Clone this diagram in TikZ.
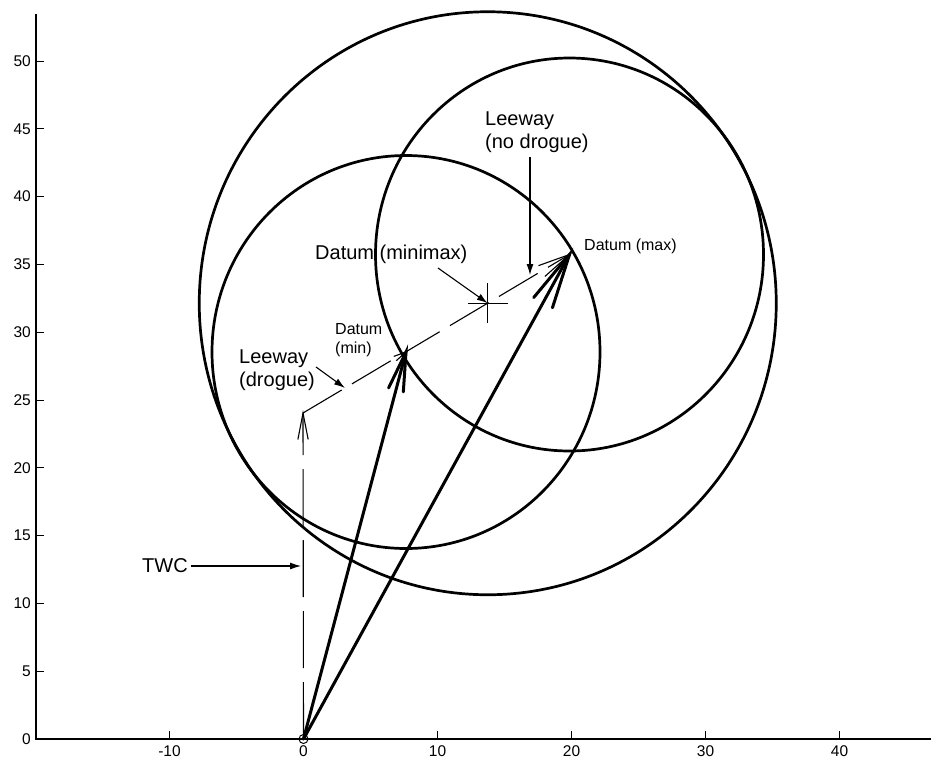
\documentclass[tikz,border=0pt]{standalone}
\usepackage{fontspec}
\setmainfont{Liberation Sans}
\usetikzlibrary{calc,arrows.meta}
\newcommand{\quivhead}[4]{% tail, tip, length, style
  \draw[#4] ($(#2)!#3!11:(#1)$) -- (#2) -- ($(#2)!#3!-11:(#1)$);}
\begin{document}
\begin{tikzpicture}[x=1pt,y=-1pt,
  circ/.style={line width=2.7pt},
  thinl/.style={line width=1.1pt},
  vec/.style={line width=3pt, line cap=round},
  lbl/.style={font=\fontsize{20}{23}\selectfont, inner sep=0pt, align=left},
  smalllbl/.style={font=\fontsize{16}{19}\selectfont, inner sep=0pt, align=left},
  ticklbl/.style={font=\fontsize{15.5}{17}\selectfont, inner sep=0pt},
  lead/.style={line width=1.1pt, -{Latex[length=11pt,width=7pt]}},
  dsh/.style={line width=1.1pt, dash pattern=on 45pt off 12pt},
  twcdsh/.style={line width=1.1pt, dash pattern=on 57pt off 14pt}]
\useasboundingbox (0,0) rectangle (931,764);
% axes
\coordinate (ytop) at (36,14);
\coordinate (org) at (36,739);
\coordinate (xend) at (931,739);
\draw[line width=1.4pt] (ytop) -- (org) -- (xend);
% y ticks
\foreach \v in {0,5,...,50}{
  \pgfmathsetmacro{\yy}{739-13.56*\v}
  \draw[line width=1pt] (36,\yy) -- (44,\yy);
  \node[ticklbl, anchor=east] (yl\v) at (31,\yy) {\v};
}
% x ticks
\foreach \v in {-10,0,10,20,30,40}{
  \pgfmathsetmacro{\xx}{303.5+13.4*\v}
  \draw[line width=1pt] (\xx,739) -- (\xx,731);
  \node[ticklbl, anchor=north] (xl\v) at (\xx,745) {\v};
}
% key points
\coordinate (O) at (303.5,739);
\coordinate (T) at (303,413);
\coordinate (Dmin) at (406,352);
\coordinate (Dmax) at (569.5,254.5);
\coordinate (Mm) at ($(Dmin)!0.5!(Dmax)$);
% circles
\draw[circ] (Mm) ellipse [x radius=288.5, y radius=291.5];
\draw[circ] (Dmin) ellipse [x radius=194, y radius=196.5];
\draw[circ] (Dmax) ellipse [x radius=194, y radius=196.5];
% origin marker
\draw[line width=1pt] (O) circle [radius=4.5];
% TWC
\draw[twcdsh] (O) -- (T);
\quivhead{O}{T}{27pt}{line width=1.1pt}
% leeway vectors
\draw[dsh] (T) -- (Dmax);
\quivhead{T}{Dmin}{13pt}{line width=1.1pt}
\quivhead{T}{Dmax}{33pt}{line width=1.1pt}
% thick vectors
\draw[vec] (O) -- (Dmin);
\quivhead{O}{Dmin}{40pt}{vec}
\draw[vec] (O) -- (Dmax);
\quivhead{O}{Dmax}{56pt}{vec}
% minimax marker
\draw[line width=1pt] ($(Mm)+(0,-20)$) -- ($(Mm)+(0,20)$);
\draw[line width=1pt] ($(Mm)+(-20,0)$) -- ($(Mm)+(20,0)$);
% labels
\node[lbl, anchor=west] (twc) at (142,566) {TWC};
\coordinate (twcend) at (301,566);
\draw[lead] (twc.east) ++(3,0) -- (twcend);

\node[lbl, anchor=north west] (ldr) at (239,350) {Leeway\\(drogue)};
\coordinate (ldrs) at (316,367);
\coordinate (ldre) at (345,388);
\draw[lead] (ldrs) -- (ldre);

\node[smalllbl, anchor=north west] (dmin) at (335,323) {Datum\\(min)};

\node[lbl, anchor=north west] (dmm) at (315,245) {Datum (minimax)};
\coordinate (dmms) at (438,268);
\draw[lead] (dmms) -- (Mm);

\node[lbl, anchor=north west] (lnd) at (485,112) {Leeway\\(no drogue)};
\coordinate (lnds) at (530,157);
\coordinate (lnde) at (530,275);
\draw[lead] (lnds) -- (lnde);

\node[smalllbl, anchor=north west] (dmax) at (584,239) {Datum (max)};
\end{tikzpicture}
\end{document}
